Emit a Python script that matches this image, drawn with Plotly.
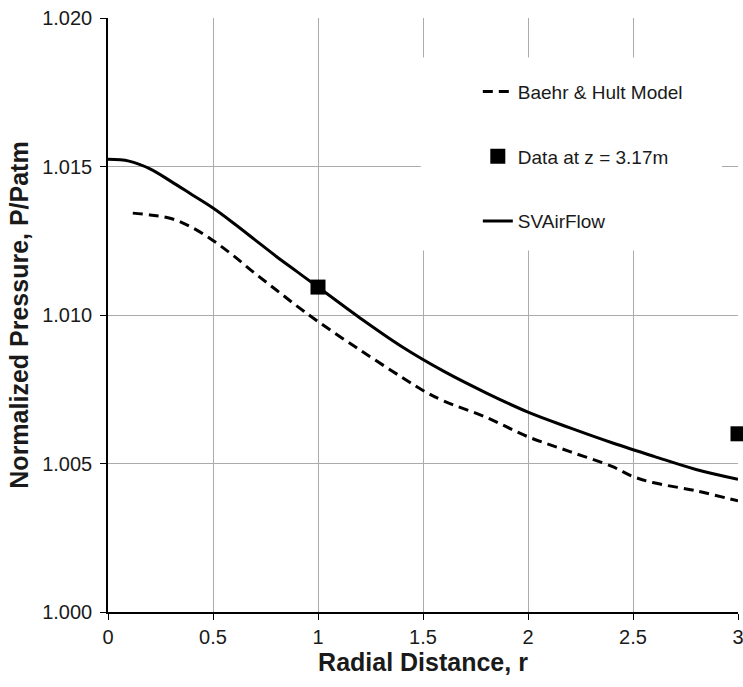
import plotly.graph_objects as go

# SVAirFlow (solid)
sv_x = [0.0, 0.1, 0.2, 0.3, 0.4, 0.5, 0.6, 0.7, 0.8, 0.9, 1.0, 1.2, 1.4, 1.6, 1.8, 2.0, 2.2, 2.4, 2.6, 2.8, 3.0]
sv_y = [1.01524, 1.01518, 1.01492, 1.01450, 1.01405, 1.01360, 1.01308, 1.01253, 1.01198, 1.01146, 1.01094,
        1.00990, 1.00893, 1.00810, 1.00738, 1.00673, 1.00620, 1.00570, 1.00524, 1.00480, 1.00447]

# Baehr & Hult Model (dashed)
bh_x = [0.118, 0.2, 0.3, 0.4, 0.5, 0.6, 0.7, 0.8, 0.9, 1.0, 1.2, 1.4, 1.5, 1.6, 1.8, 2.0, 2.2, 2.4, 2.5, 2.6, 2.8, 3.0]
bh_y = [1.01343, 1.01337, 1.01325, 1.01295, 1.01251, 1.01198, 1.01140, 1.01085, 1.01030, 1.00978, 1.00882,
        1.00790, 1.00746, 1.00710, 1.00656, 1.00590, 1.00540, 1.00490, 1.00456, 1.00435, 1.00408, 1.00374]

# Data at z = 3.17m
data_x = [1.0, 3.0]
data_y = [1.01094, 1.00600]

x_ticks = [0, 0.5, 1, 1.5, 2, 2.5, 3]
y_ticks = [1.000, 1.005, 1.010, 1.015, 1.020]

FONT = "Liberation Sans, Arial, sans-serif"
TXT = "#1a1a1a"

fig = go.Figure()
fig.add_trace(go.Scatter(
    x=bh_x, y=bh_y, mode="lines", name="Baehr & Hult Model",
    line=dict(color="black", width=3, dash="10px,6px", shape="spline", smoothing=1),
    legendgroup="a"))
fig.add_trace(go.Scatter(
    x=data_x, y=data_y, mode="markers", name="Data at z = 3.17m",
    marker=dict(symbol="square", size=15, color="black"),
    cliponaxis=False, legendgroup="b"))
fig.add_trace(go.Scatter(
    x=sv_x, y=sv_y, mode="lines", name="SVAirFlow",
    line=dict(color="black", width=3, shape="spline", smoothing=1),
    legendgroup="c"))

# white legend backdrop
fig.add_shape(type="rect", xref="paper", yref="paper",
              x0=0.4964, x1=0.9746, y0=0.6087, y1=0.9335,
              fillcolor="white", line=dict(width=0), layer="above")

fig.update_layout(
    width=743, height=687,
    margin=dict(l=108, r=5, t=18, b=75, autoexpand=False),
    paper_bgcolor="white", plot_bgcolor="white",
    font=dict(family=FONT, color=TXT),
    showlegend=True,
    legend=dict(x=0.587, xanchor="left", y=0.908, yanchor="top",
                bgcolor="rgba(0,0,0,0)", borderwidth=0,
                font=dict(size=19, family=FONT, color=TXT),
                traceorder="grouped", tracegroupgap=37),
    xaxis=dict(range=[0, 3], tickvals=x_ticks, ticktext=[str(v) for v in x_ticks],
               showgrid=True, gridcolor="#ababab", gridwidth=1,
               showline=True, linecolor="black", linewidth=1.5,
               ticks="outside", ticklen=6, tickcolor="black",
               tickfont=dict(size=20, family=FONT, color=TXT),
               ticklabeloverflow="allow",
               zeroline=False,
               title=dict(text="<b>Radial Distance, r</b>", standoff=7,
                          font=dict(size=25, family=FONT, color=TXT))),
    yaxis=dict(range=[1.0, 1.02], tickvals=y_ticks, tickformat=".3f",
               showgrid=True, gridcolor="#ababab", gridwidth=1,
               showline=True, linecolor="black", linewidth=1.5,
               ticks="outside", ticklen=6, tickcolor="black",
               tickfont=dict(size=20, family=FONT, color=TXT),
               ticklabelstandoff=4,
               zeroline=False,
               title=dict(text="<b>Normalized Pressure, P/Patm</b>", standoff=6,
                          font=dict(size=25, family=FONT, color=TXT))),
)

fig.write_html("out.html")
